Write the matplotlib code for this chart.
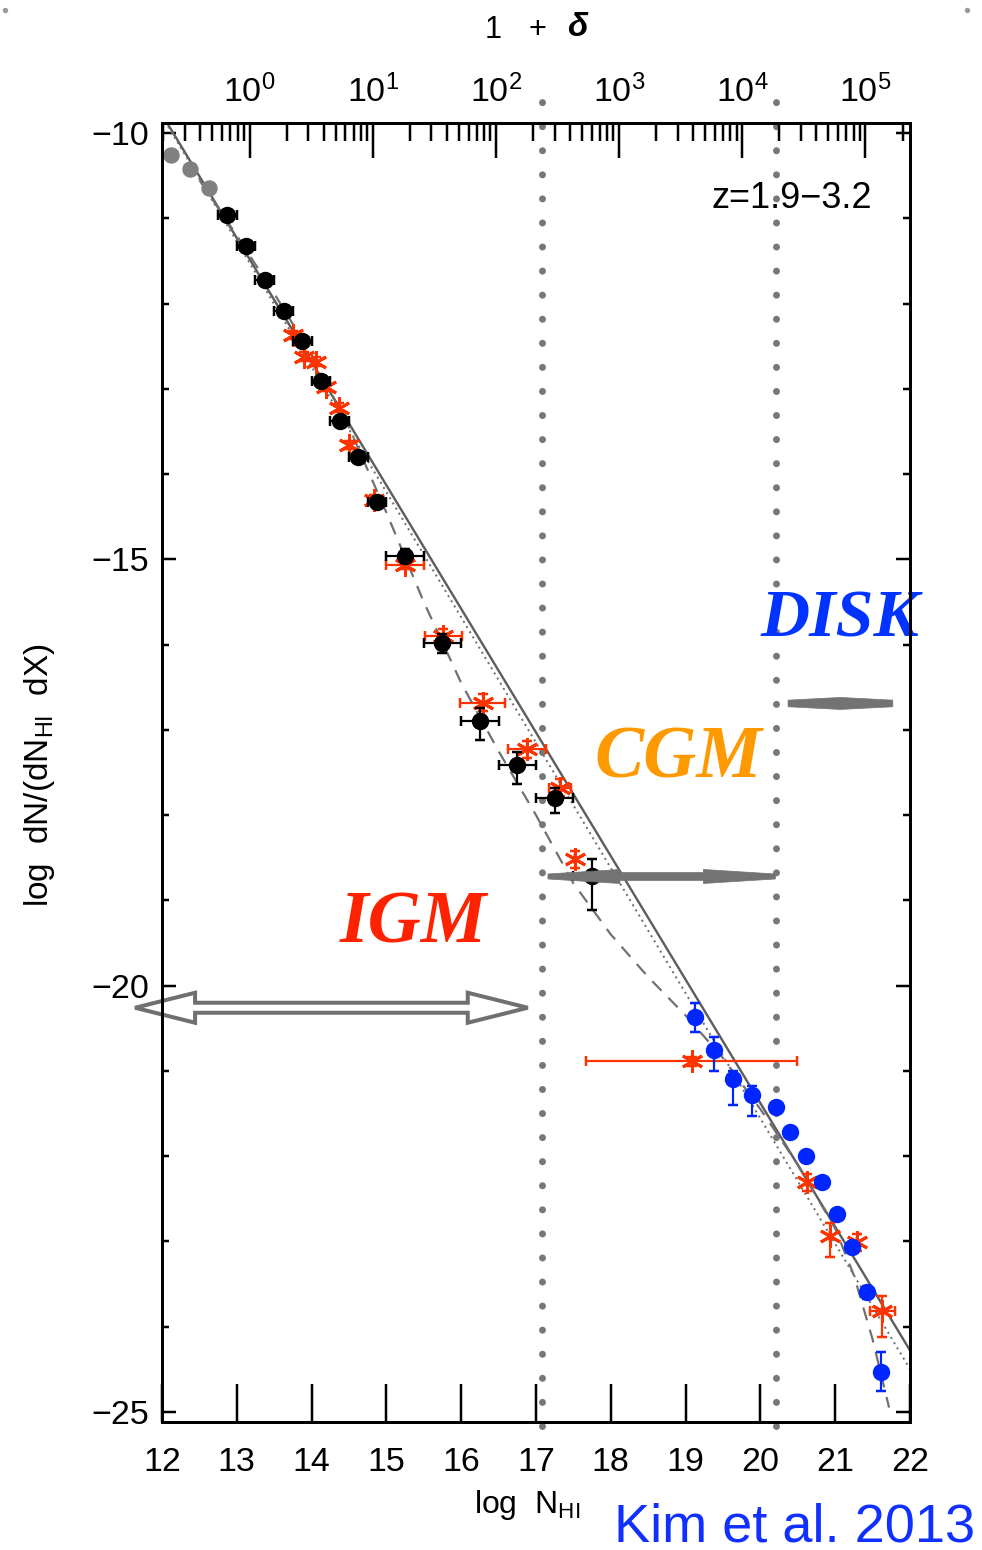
import numpy as np
import matplotlib
matplotlib.use("Agg")
import matplotlib.pyplot as plt
from matplotlib.patches import Polygon

# ---------------------------------------------------------------- data
# log N_HI bin centres and log f(N_HI, X) values
gray_x = [12.125, 12.375, 12.625]
gray_y = [-10.25, -10.42, -10.64]

black_x = [12.875, 13.125, 13.375, 13.625, 13.875, 14.125, 14.375, 14.625,
           14.875, 15.25, 15.75, 16.25, 16.75, 17.25, 17.75]
black_y = [-10.96, -11.32, -11.72, -12.09, -12.44, -12.91, -13.38, -13.80,
           -14.33, -14.96, -15.98, -16.89, -17.41, -17.80, -18.72]
black_xerr = [0.125] * 9 + [0.25] * 6
black_yerr_lo = [0.05, 0.05, 0.05, 0.05, 0.05, 0.05, 0.05, 0.05, 0.05,
                 0.08, 0.12, 0.23, 0.23, 0.18, 0.39]
black_yerr_hi = [0.05, 0.05, 0.05, 0.05, 0.05, 0.05, 0.05, 0.05, 0.05,
                 0.08, 0.10, 0.15, 0.15, 0.12, 0.20]

red_x = [13.75, 13.90, 14.06, 14.19, 14.36, 14.50, 14.83, 15.25, 15.76,
         16.29, 16.88, 17.32, 17.52, 19.08, 20.62, 20.93, 21.29, 21.63]
red_y = [-12.37, -12.62, -12.68, -12.98, -13.22, -13.66, -14.30, -15.06,
         -15.90, -16.68, -17.23, -17.68, -18.52, -20.89, -22.31, -22.94,
         -23.01, -23.82]
red_xerr = [0.0, 0.0, 0.0, 0.0, 0.0, 0.0, 0.0, 0.25, 0.25, 0.30, 0.25,
            0.15, 0.0, 1.41, 0.0, 0.0, 0.0, 0.17]
red_yerr_lo = [0.05, 0.05, 0.05, 0.05, 0.05, 0.05, 0.05, 0.05, 0.08, 0.10,
               0.10, 0.10, 0.10, 0.05, 0.10, 0.25, 0.10, 0.30]
red_yerr_hi = [0.05, 0.05, 0.05, 0.05, 0.05, 0.05, 0.05, 0.05, 0.08, 0.10,
               0.10, 0.10, 0.10, 0.05, 0.10, 0.15, 0.10, 0.18]

blue_x = [19.13, 19.38, 19.63, 19.89, 20.21, 20.40, 20.61, 20.82, 21.02,
          21.22, 21.42, 21.61]
blue_y = [-20.37, -20.75, -21.10, -21.28, -21.43, -21.72, -22.00, -22.31,
          -22.68, -23.07, -23.60, -24.53]
blue_yerr_lo = [0.17, 0.25, 0.30, 0.25, 0.05, 0.05, 0.05, 0.05, 0.05,
                0.05, 0.08, 0.23]
blue_yerr_hi = [0.16, 0.15, 0.10, 0.10, 0.05, 0.05, 0.05, 0.05, 0.05,
                0.05, 0.08, 0.23]

# model curves (log N_HI, log f)
solid_x = [12.0, 22.0]
solid_y = [-9.78, -24.28]
dotted_x = [12.0, 22.0]
dotted_y = [-9.80, -24.50]
dashed_x = [12.5, 13.0, 13.5, 14.0, 14.5, 15.0, 15.5, 16.0, 16.5, 17.0, 17.5,
            18.0, 18.5, 19.0, 19.5, 20.0, 20.5, 21.0, 21.25, 21.5, 21.72]
dashed_y = [-10.55, -11.20, -11.88, -12.60, -13.45, -14.45, -15.50, -16.45,
            -17.25, -18.00, -18.80, -19.40, -19.90, -20.35, -20.85, -21.45,
            -22.10, -22.85, -23.40, -24.15, -24.95]

# boundaries between regimes (log N_HI)
bound_x = [17.08, 20.21]

# top axis: overdensity 1+delta  <->  log N_HI
delta_zero = 13.17      # log N_HI at 1+delta = 1
delta_slope = 1.647     # dex in N_HI per dex in 1+delta
delta_decades = [0, 1, 2, 3, 4, 5]

x_ticks = list(range(12, 23))
y_major = [-25, -20, -15, -10]

# ---------------------------------------------------------------- style
plt.rcParams["font.family"] = ["Liberation Sans", "DejaVu Sans"]
plt.rcParams["mathtext.fontset"] = "custom"
plt.rcParams["mathtext.rm"] = "Liberation Sans"
plt.rcParams["mathtext.it"] = "Liberation Sans:italic"
plt.rcParams["mathtext.bf"] = "Liberation Sans:bold"

W, H, DPI = 982, 1550, 100
PX = 72.0 / DPI  # points per pixel

GRAY = "#737373"
RED = "#ff3300"
BLUE = "#0026ff"

fig = plt.figure(figsize=(W / DPI, H / DPI), dpi=DPI)
ax_l, ax_r, ax_t, ax_b = 162, 910, 123, 1422
ax = fig.add_axes([ax_l / W, 1 - ax_b / H, (ax_r - ax_l) / W, (ax_b - ax_t) / H])
XLIM = (12, 22)
YLIM = (-25.12, -9.88)
ax.set_xlim(*XLIM)
ax.set_ylim(*YLIM)

px_per_x = (ax_r - ax_l) / (XLIM[1] - XLIM[0])
px_per_y = (ax_b - ax_t) / (YLIM[1] - YLIM[0])

for s in ax.spines.values():
    s.set_linewidth(3 * PX)

ax.set_xticks(x_ticks)
ax.set_xticklabels([str(v) for v in x_ticks])
ax.tick_params(axis="x", which="major", direction="in", length=38 * PX,
               width=2.5 * PX, labelsize=24.5, pad=18, top=False)
ax.set_yticks(y_major)
ax.set_yticklabels(["\u2212%d" % abs(v) for v in y_major])
ax.set_yticks(np.arange(-25, -9), minor=True)
ax.tick_params(axis="y", which="major", direction="in", length=14 * PX,
               width=2.5 * PX, labelsize=24.5, pad=9, right=True)
ax.tick_params(axis="y", which="minor", direction="in", length=7 * PX,
               width=2.5 * PX, right=True)

# top axis in 1+delta
ax2 = ax.twiny()
ax2.set_xlim(*XLIM)
maj = [delta_zero + delta_slope * k for k in delta_decades]
ax2.set_xticks(maj)
ax2.set_xticklabels([r"$10^{%d}$" % k for k in delta_decades])
minor = []
for k in range(-1, 6):
    for m in range(2, 10):
        p = delta_zero + delta_slope * (k + np.log10(m))
        if XLIM[0] < p < XLIM[1]:
            minor.append(p)
ax2.set_xticks(minor, minor=True)
ax2.tick_params(axis="x", which="major", direction="in", length=35 * PX,
                width=2.5 * PX, labelsize=24.5, pad=10)
ax2.tick_params(axis="x", which="minor", direction="in", length=18 * PX,
                width=2.5 * PX)
for s in ax2.spines.values():
    s.set_linewidth(3 * PX)

# ---------------------------------------------------------------- curves
ax.plot(solid_x, solid_y, color="#5e5e5e", lw=2 * PX * 1.2, zorder=2)
ax.plot(dotted_x, dotted_y, color="#707070", lw=2 * PX, ls=(0, (1, 2)), zorder=2)
ax.plot(dashed_x, dashed_y, color="#707070", lw=2.2 * PX, ls=(0, (6, 4.5)), zorder=2)

# regime boundaries
ax.plot([bound_x[0]] * 2, [YLIM[0] - 0.05, -9.40], color="#777777", lw=7 * PX,
        ls=(0, (0.01, 24 / 7)), dash_capstyle="round", clip_on=False, zorder=1)
ax.plot([bound_x[1]] * 2, [YLIM[0] - 0.05, -9.52], color="#777777", lw=7 * PX,
        ls=(0, (0.01, 24 / 7)), dash_capstyle="round", clip_on=False, zorder=1)

# ---------------------------------------------------------------- data points
ekw = dict(elinewidth=2.2 * PX, capsize=3.5, capthick=2.5 * PX, ls="none")
ax.errorbar(gray_x, gray_y, yerr=0.05, xerr=0.07, color="#808080", fmt="o",
            ms=15 * PX, zorder=4, **ekw)
ax.errorbar(red_x, red_y, xerr=red_xerr, yerr=[red_yerr_lo, red_yerr_hi],
            color=RED, fmt="none", zorder=4, **ekw)
ax.plot(red_x, red_y, ls="none", marker=(6, 2, 0), ms=22 * PX, mew=3 * PX,
        color=RED, zorder=4)
ax.errorbar(black_x, black_y, xerr=black_xerr,
            yerr=[black_yerr_lo, black_yerr_hi], color="black", fmt="o",
            ms=16 * PX, zorder=5, **ekw)
ax.errorbar(blue_x, blue_y, yerr=[blue_yerr_lo, blue_yerr_hi], xerr=0.06,
            color=BLUE, fmt="o", ms=16 * PX, zorder=6, **ekw)

ax.text(21.5, -10.76, "z=1.9\u22123.2", ha="right", va="center", fontsize=26)


# ---------------------------------------------------------------- arrows
def dx(px):
    return px / px_per_x


def dy(px):
    return px / px_per_y


def double_arrow(x0, x1, y, head_len, head_half, shaft_half, tip_half=0.0):
    return [
        (x0, y + dy(tip_half)), (x0 + dx(head_len), y + dy(head_half)),
        (x0 + dx(head_len), y + dy(shaft_half)),
        (x1 - dx(head_len), y + dy(shaft_half)),
        (x1 - dx(head_len), y + dy(head_half)), (x1, y + dy(tip_half)),
        (x1, y - dy(tip_half)), (x1 - dx(head_len), y - dy(head_half)),
        (x1 - dx(head_len), y - dy(shaft_half)),
        (x0 + dx(head_len), y - dy(shaft_half)),
        (x0 + dx(head_len), y - dy(head_half)), (x0, y - dy(tip_half)),
    ]


# IGM: hollow double arrow
igm = Polygon(double_arrow(11.64, 16.89, -20.26, 60, 15, 5), closed=True,
              facecolor="white", edgecolor="#707070", lw=4 * PX,
              joinstyle="miter", clip_on=False, zorder=8)
ax.add_patch(igm)

# CGM: solid double arrow with long slim heads
cgm = Polygon(double_arrow(17.16, 20.20, -18.72, 72, 7, 4, 2.5), closed=True,
              facecolor=GRAY, edgecolor=GRAY, lw=0.5, clip_on=False, zorder=8)
ax.add_patch(cgm)

# DISK: slim spindle
dx0, dx1, dyc = 20.37, 21.77, -16.69
dxm = 0.5 * (dx0 + dx1)
disk = Polygon([(dx0, dyc + dy(3.3)), (dxm, dyc + dy(6)), (dx1, dyc + dy(3.3)),
                (dx1, dyc - dy(3.3)), (dxm, dyc - dy(6)), (dx0, dyc - dy(3.3))],
               closed=True, facecolor=GRAY, edgecolor=GRAY, lw=0.5,
               clip_on=False, zorder=8)
ax.add_patch(disk)

# ---------------------------------------------------------------- region labels
lab = dict(family=["Liberation Serif", "DejaVu Serif"], weight="bold",
           style="italic", ha="center", va="center", zorder=9)
ax.text(21.06, -15.71, "DISK", color="#0033ff", fontsize=49, **lab)
ax.text(18.90, -17.35, "CGM", color="#ff9900", fontsize=53, **lab)
ax.text(15.36, -19.28, "IGM", color="#ff2200", fontsize=53, **lab)

# ---------------------------------------------------------------- axis titles
fig.text(527 / W, 1 - 1505 / H, r"log  N$_{\rm HI}$", ha="center",
         va="center", fontsize=23)
fig.text(40 / W, 1 - 775 / H, r"log  dN/(dN$_{\rm HI}$  dX)", ha="center",
         va="center", rotation=90, fontsize=24)
fig.text(493 / W, 1 - 30 / H, "1", ha="center", va="center", fontsize=22)
fig.text(537 / W, 1 - 30 / H, "+", ha="center", va="center", fontsize=22)
fig.text(577 / W, 1 - 28 / H, "\u03b4", ha="center", va="center", fontsize=24,
         weight="bold", style="italic")

fig.text(795 / W, 1 - 1527 / H, "Kim et al. 2013", ha="center", va="center",
         fontsize=39, color="#1030ff")

# small marks in the upper corners
fig.add_artist(plt.Line2D([5 / W, 967 / W], [1 - 10 / H, 1 - 10 / H], ls="none",
                          marker="o", ms=4 * PX, color="#999999"))

fig.savefig("out.png", dpi=DPI)
